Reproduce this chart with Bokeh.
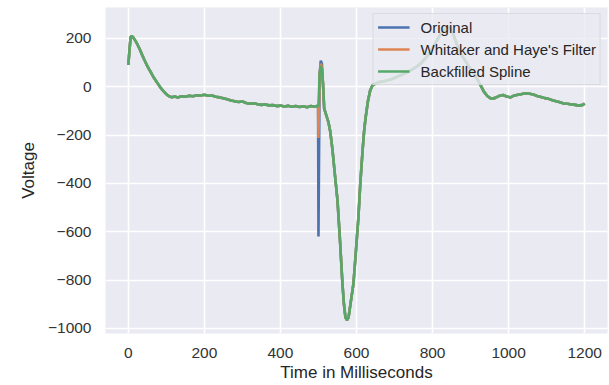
from bokeh.plotting import figure
from bokeh.models import Range1d, FixedTicker, CustomJSTickFormatter
from bokeh.embed import file_html
from bokeh.resources import INLINE

# ---- data ----
time_ms = [0, 3, 6, 9, 13, 18, 24, 30, 36, 42, 48, 54, 60, 66, 72, 78, 84, 90, 96, 102,
           108, 115, 122, 130, 140, 150, 160, 170, 180, 190, 200, 210, 220, 230, 240, 250,
           260, 270, 280, 290, 300, 310, 320, 330, 340, 350, 360, 370, 380, 390, 400, 410,
           420, 430, 440, 450, 460, 470, 480, 490, 496, 499, 500, 503, 506, 509, 512, 515,
           520, 526, 531, 537, 543, 550, 556, 563, 567, 571, 575, 579, 585, 592, 598, 605,
           610, 616, 620, 624, 630, 636, 642, 650, 660, 670, 680, 690, 700, 710, 720, 730,
           740, 750, 760, 770, 780, 790, 800, 810, 820, 830, 840, 848, 855, 865, 875, 885,
           895, 905, 915, 925, 935, 945, 955, 965, 975, 985, 995, 1005, 1015, 1025, 1035,
           1045, 1055, 1065, 1075, 1085, 1095, 1105, 1115, 1125, 1135, 1145, 1155, 1165,
           1175, 1185, 1195, 1200]

spline = [90, 150, 205, 210, 204, 192, 175, 155, 133, 112, 92, 74, 58, 40, 26, 12, -2, -14, -24, -34,
          -40, -43, -40, -44, -39, -41, -37, -39, -35, -36, -33, -37, -36, -41, -44, -48,
          -52, -57, -60, -63, -61, -67, -70, -68, -72, -75, -73, -77, -76, -80, -78, -82,
          -79, -83, -80, -84, -81, -85, -80, -83, -80, -81, -78, 50, 88, 70, 10, -90,
          -115, -145, -185, -263, -360, -470, -620, -814, -900, -955, -966, -955, -890, -814, -690, -541,
          -400, -263, -185, -127, -60, -15, 5, 14, 20, 22, 26, 30, 36, 44, 50, 58,
          66, 75, 85, 98, 115, 135, 160, 188, 215, 236, 245, 240, 215, 170, 135, 110,
          85, 62, 38, 10, -20, -40, -50, -46, -38, -34, -40, -44, -36, -33, -30,
          -27, -29, -32, -38, -42, -47, -50, -56, -60, -64, -69, -70, -73,
          -75, -78, -75, -70]

# samples where the original and the filtered signal differ from the spline
spike_time = [500, 506, 509]
original_spike = [-620, 108, 95]
filter_spike = [-212, 96, 82]

x_ticks = [0, 200, 400, 600, 800, 1000, 1200]
y_ticks = [-1000, -800, -600, -400, -200, 0, 200]

original = [original_spike[spike_time.index(t)] if t in spike_time else v
            for t, v in zip(time_ms, spline)]
whittaker = [filter_spike[spike_time.index(t)] if t in spike_time else v
             for t, v in zip(time_ms, spline)]

FONT = "Liberation Sans"

p = figure(width=609, height=385, output_backend="svg", toolbar_location=None,
           x_range=Range1d(-60, 1260), y_range=Range1d(-1021, 328),
           min_border_left=105, min_border_right=2, min_border_top=7, min_border_bottom=52)

p.background_fill_color = "#EAEAF2"
p.border_fill_color = "white"
p.outline_line_color = None

p.line(time_ms, original, color="#4C72B0", line_width=2.6, legend_label="Original")
p.line(time_ms, whittaker, color="#DD8452", line_width=2.6, legend_label="Whitaker and Haye's Filter")
p.line(time_ms, spline, color="#55A868", line_width=2.6, legend_label="Backfilled Spline")

minus_fmt = CustomJSTickFormatter(code="return tick < 0 ? '\u2212' + Math.abs(tick) : String(tick);")

for ax in (p.xaxis[0], p.yaxis[0]):
    ax.axis_line_color = None
    ax.major_tick_line_color = None
    ax.minor_tick_line_color = None
    ax.major_tick_in = 0
    ax.major_tick_out = 0
    ax.minor_tick_in = 0
    ax.minor_tick_out = 0
    ax.major_label_text_font = FONT
    ax.major_label_text_font_size = "15.5px"
    ax.major_label_text_color = "#333333"
    ax.axis_label_text_font = FONT
    ax.axis_label_text_font_size = "17px"
    ax.axis_label_text_font_style = "normal"
    ax.axis_label_text_color = "#262626"
    ax.formatter = minus_fmt

p.xaxis.ticker = FixedTicker(ticks=x_ticks)
p.yaxis.ticker = FixedTicker(ticks=y_ticks)
p.xaxis.axis_label = "Time in Milliseconds"
p.yaxis.axis_label = "Voltage"
p.xaxis.major_label_standoff = 14
p.yaxis.major_label_standoff = 14
p.xaxis.axis_label_standoff = 2
p.yaxis.axis_label_standoff = 7

p.xgrid.ticker = FixedTicker(ticks=x_ticks)
p.ygrid.ticker = FixedTicker(ticks=y_ticks)
p.grid.grid_line_color = "white"
p.grid.grid_line_width = 1.6

lg = p.legend[0]
lg.location = "top_right"
lg.margin = 6
lg.padding = 4
lg.spacing = 4
lg.label_height = 18
lg.glyph_height = 18
lg.glyph_width = 32
lg.label_standoff = 11
lg.label_text_font = FONT
lg.label_text_font_size = "15px"
lg.label_text_color = "#262626"
lg.background_fill_color = "#EAEAF2"
lg.background_fill_alpha = 0.8
lg.border_line_color = "#cccccc"
lg.border_line_width = 1

open("out.html", "w").write(file_html(p, INLINE))
